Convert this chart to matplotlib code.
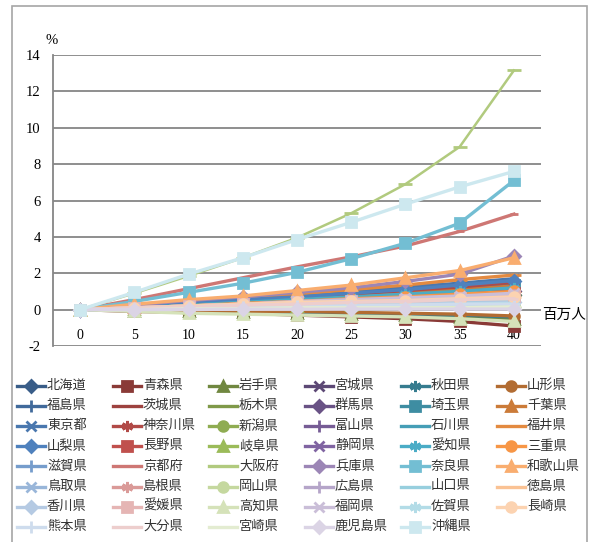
import numpy as np
import matplotlib.pyplot as plt
from matplotlib.lines import Line2D
from matplotlib.patches import Rectangle
from matplotlib import colors as mcolors

plt.rcParams['font.family'] = ['Liberation Serif', 'Noto Sans CJK JP']

x_labels = ['0', '5', '10', '15', '20', '25', '30', '35', '40']
y_ticks = [-2, 0, 2, 4, 6, 8, 10, 12, 14]

prefs = ['北海道', '青森県', '岩手県', '宮城県', '秋田県', '山形県',
         '福島県', '茨城県', '栃木県', '群馬県', '埼玉県', '千葉県',
         '東京都', '神奈川県', '新潟県', '富山県', '石川県', '福井県',
         '山梨県', '長野県', '岐阜県', '静岡県', '愛知県', '三重県',
         '滋賀県', '京都府', '大阪府', '兵庫県', '奈良県', '和歌山県',
         '鳥取県', '島根県', '岡山県', '広島県', '山口県', '徳島県',
         '香川県', '愛媛県', '高知県', '福岡県', '佐賀県', '長崎県',
         '熊本県', '大分県', '宮崎県', '鹿児島県', '沖縄県']

# % change at 0,5,...,40 million people
values = [
    [0, 0.10, 0.20, 0.30, 0.40, 0.50, 0.60, 0.70, 0.80],     # 北海道
    [0, -0.10, -0.15, -0.20, -0.30, -0.40, -0.50, -0.65, -0.90],  # 青森県
    [0, -0.05, -0.10, -0.15, -0.20, -0.25, -0.30, -0.40, -0.50],  # 岩手県
    [0, 0.10, 0.25, 0.35, 0.45, 0.55, 0.70, 0.85, 1.00],     # 宮城県
    [0, -0.05, -0.10, -0.15, -0.20, -0.25, -0.30, -0.30, -0.40],  # 秋田県
    [0, -0.05, -0.05, -0.10, -0.10, -0.15, -0.20, -0.25, -0.35],  # 山形県
    [0, 0.05, 0.10, 0.15, 0.20, 0.25, 0.30, 0.35, 0.40],     # 福島県
    [0, 0.15, 0.30, 0.45, 0.60, 0.75, 0.90, 1.05, 1.20],     # 茨城県
    [0, 0.10, 0.20, 0.30, 0.40, 0.50, 0.60, 0.70, 0.80],     # 栃木県
    [0, 0.10, 0.25, 0.35, 0.50, 0.60, 0.75, 0.90, 1.05],     # 群馬県
    [0, 0.20, 0.35, 0.50, 0.65, 0.80, 1.00, 1.15, 1.35],     # 埼玉県
    [0, 0.15, 0.30, 0.45, 0.60, 0.75, 0.95, 1.10, 1.30],     # 千葉県
    [0, 0.20, 0.40, 0.60, 0.80, 1.00, 1.25, 1.45, 1.70],     # 東京都
    [0, 0.15, 0.35, 0.50, 0.65, 0.85, 1.05, 1.25, 1.50],     # 神奈川県
    [0, 0.00, 0.05, 0.05, 0.10, 0.10, 0.10, 0.15, 0.15],     # 新潟県
    [0, 0.05, 0.10, 0.15, 0.20, 0.25, 0.30, 0.35, 0.40],     # 富山県
    [0, 0.10, 0.15, 0.20, 0.30, 0.35, 0.40, 0.50, 0.55],     # 石川県
    [0, 0.20, 0.45, 0.65, 0.85, 1.10, 1.35, 1.65, 1.90],     # 福井県
    [0, 0.15, 0.35, 0.55, 0.70, 0.90, 1.10, 1.35, 1.60],     # 山梨県
    [0, 0.10, 0.20, 0.30, 0.40, 0.50, 0.60, 0.75, 0.90],     # 長野県
    [0, 0.05, 0.10, 0.15, 0.20, 0.25, 0.30, 0.35, 0.45],     # 岐阜県
    [0, 0.10, 0.20, 0.30, 0.45, 0.55, 0.65, 0.80, 0.95],     # 静岡県
    [0, 0.10, 0.25, 0.40, 0.55, 0.70, 0.85, 1.00, 1.20],     # 愛知県
    [0, 0.10, 0.20, 0.35, 0.45, 0.60, 0.70, 0.85, 1.00],     # 三重県
    [0, 0.05, 0.15, 0.20, 0.30, 0.35, 0.45, 0.55, 0.60],     # 滋賀県
    [0, 0.55, 1.15, 1.75, 2.35, 2.90, 3.50, 4.30, 5.25],     # 京都府
    [0, 0.90, 1.85, 2.85, 3.95, 5.30, 6.90, 8.95, 13.15],    # 大阪府
    [0, 0.25, 0.50, 0.70, 0.95, 1.20, 1.55, 1.95, 2.95],     # 兵庫県
    [0, 0.45, 0.95, 1.45, 2.05, 2.80, 3.65, 4.75, 7.10],     # 奈良県
    [0, 0.30, 0.55, 0.75, 1.05, 1.35, 1.75, 2.15, 2.85],     # 和歌山県
    [0, 0.05, 0.10, 0.15, 0.20, 0.25, 0.30, 0.30, 0.35],     # 鳥取県
    [0, 0.10, 0.20, 0.30, 0.40, 0.50, 0.60, 0.70, 0.85],     # 島根県
    [0, 0.05, 0.10, 0.10, 0.15, 0.15, 0.20, 0.20, 0.25],     # 岡山県
    [0, 0.05, 0.10, 0.15, 0.20, 0.25, 0.30, 0.35, 0.40],     # 広島県
    [0, 0.10, 0.15, 0.25, 0.30, 0.35, 0.40, 0.45, 0.50],     # 山口県
    [0, 0.10, 0.20, 0.30, 0.35, 0.45, 0.55, 0.60, 0.70],     # 徳島県
    [0, 0.05, 0.10, 0.15, 0.20, 0.25, 0.30, 0.35, 0.40],     # 香川県
    [0, 0.10, 0.20, 0.30, 0.40, 0.50, 0.55, 0.65, 0.75],     # 愛媛県
    [0, -0.10, -0.20, -0.25, -0.30, -0.35, -0.40, -0.50, -0.65],  # 高知県
    [0, 0.10, 0.20, 0.30, 0.45, 0.55, 0.65, 0.75, 0.90],     # 福岡県
    [0, 0.05, 0.10, 0.15, 0.20, 0.25, 0.25, 0.30, 0.35],     # 佐賀県
    [0, 0.10, 0.20, 0.30, 0.40, 0.45, 0.50, 0.60, 0.70],     # 長崎県
    [0, 0.05, 0.10, 0.15, 0.20, 0.20, 0.25, 0.30, 0.30],     # 熊本県
    [0, 0.10, 0.15, 0.25, 0.30, 0.40, 0.45, 0.55, 0.60],     # 大分県
    [0, 0.00, 0.05, 0.05, 0.10, 0.10, 0.10, 0.10, 0.15],     # 宮崎県
    [0, 0.00, 0.01, 0.02, 0.02, 0.03, 0.03, 0.03, 0.03],     # 鹿児島県
    [0, 0.95, 1.95, 2.85, 3.85, 4.80, 5.80, 6.75, 7.60],     # 沖縄県
]

# excel-ish palette: 6 hues, rows go dark -> light
base = ['#4F81BD', '#C0504D', '#9BBB59', '#8064A2', '#4BACC6', '#F79646']
shade = [0.72, 0.82, 0.92, 1.0, 0.22, 0.42, 0.58, 0.72]
star = (6, 2, 0)
markers = ['D', 's', '^', 'x', star, 'o', '+', '_', '_']
msizes = [6, 7, 7, 7, 8, 7, 8, 6, 10]


def col_for(i):
    c = np.array(mcolors.to_rgb(base[i % 6]))
    f = shade[i // 6]
    if f <= 1 and i // 6 < 4:
        return tuple(c * f)
    return tuple(c + (1 - c) * f)


fig = plt.figure(figsize=(5.9, 5.42), dpi=100)
W, H = 590, 542
ax = fig.add_axes([53 / W, 1 - 346 / H, (541 - 53) / W, (346 - 55) / H])

xs = np.arange(len(x_labels))
for i, name in enumerate(prefs):
    lw = 1.8 if name == '大阪府' else 2.4
    ax.plot(xs, values[i], color=col_for(i), lw=lw, marker=markers[i % 9],
            ms=msizes[i % 9], mew=2, zorder=3)

ax.set_xlim(-0.5, 8.5)
ax.set_ylim(-2, 14)
ax.set_yticks(y_ticks)
ax.set_yticklabels([str(t) for t in y_ticks], fontsize=10.5)
ax.set_xticks(xs)
ax.set_xticklabels(x_labels, fontsize=10.5)
ax.yaxis.grid(True, color='#868686', lw=1.3, zorder=1)
ax.set_axisbelow(True)
for s in ['top', 'right']:
    ax.spines[s].set_visible(False)
ax.spines['left'].set_color('#868686')
ax.spines['left'].set_linewidth(1.3)
ax.spines['bottom'].set_position(('data', 0))
ax.spines['bottom'].set_visible(False)
ax.tick_params(axis='x', length=0, pad=14)
ax.tick_params(axis='y', length=0, pad=9)

ax.text(1.003, -0.3, '百万人', transform=ax.get_yaxis_transform(),
        ha='left', va='center', fontsize=10.5)
fig.text(52 / W, 1 - 40 / H, '%', ha='center', va='center', fontsize=10.5)

# chart border
fig.add_artist(Rectangle((12 / W, -0.05), (587 - 12) / W, 1.05 - 6 / H,
                         transform=fig.transFigure, fill=False,
                         edgecolor='#A6A6A6', lw=1.2))

# legend drawn by hand, excel style row-major layout
col_x = [17, 113, 209, 305, 401, 497]
for i, name in enumerate(prefs):
    r, c = divmod(i, 6)
    y = 1 - (386 + 20.1 * r) / H
    x0 = col_x[c]
    fig.add_artist(Line2D([x0 / W, (x0 + 28) / W], [y, y],
                          transform=fig.transFigure, color=col_for(i), lw=2.4))
    fig.add_artist(Line2D([(x0 + 14) / W], [y], transform=fig.transFigure,
                          color=col_for(i), marker=markers[i % 9],
                          ms=msizes[i % 9], mew=2, lw=0))
    fig.text((x0 + 30) / W, y, name, ha='left', va='center', fontsize=9.5,
             color='#333333')

fig.savefig('out.png', dpi=100)
